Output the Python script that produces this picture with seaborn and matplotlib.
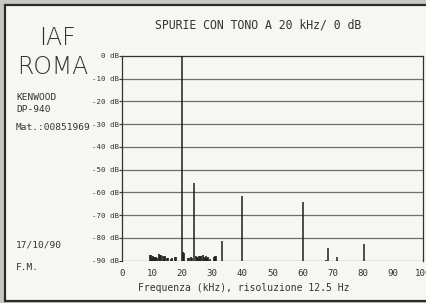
import matplotlib
matplotlib.use('Agg')
import matplotlib.pyplot as plt
import seaborn as sns
from matplotlib.patches import Rectangle

# Righe spettrali principali (kHz, dB)
toni_khz = [20, 24, 31, 33.2, 40, 60, 67.7, 68.3, 71.4, 80.4]
toni_db = [0, -56, -88, -81.5, -61.5, -64.2, -89.5, -84.6, -88.2, -82.7]

# Rumore di fondo tra 10 e 32 kHz
rumore_khz = [9.4, 9.7, 10.0, 10.3, 10.6, 11.1, 11.4, 11.7, 12.4, 12.7, 13.0, 13.7,
              14.0, 14.3, 14.9, 15.2, 16.3, 16.6, 17.7, 18.0, 20.4, 20.7,
              22.0, 22.4, 22.9, 23.4, 24.6, 25.0, 25.3, 25.5, 26.0, 26.4, 26.9,
              27.3, 27.6, 27.8, 28.3, 28.7, 29.2, 30.5, 30.8, 31.3]
rumore_db = [-87.3, -87.6, -88.6, -88.0, -88.4, -88.6, -88.4, -88.8, -87.1, -87.3, -87.6, -87.8,
             -88.2, -88.0, -89.0, -88.8, -89.2, -89.0, -88.2, -88.4, -86.0, -86.4,
             -89.0, -88.8, -88.4, -88.6, -88.0, -88.3, -88.9, -87.9, -88.1, -87.8, -87.7,
             -88.5, -88.9, -88.0, -88.8, -88.3, -89.3, -88.2, -88.6, -88.0]

y_ticks = [0, -10, -20, -30, -40, -50, -60, -70, -80, -90]
x_ticks = [0, 10, 20, 30, 40, 50, 60, 70, 80, 90, 100]

sns.set_style('white')
mono = 'DejaVu Sans Mono'
plt.rcParams['font.family'] = [mono, 'DejaVu Sans']

fig = plt.figure(figsize=(4.26, 3.03), dpi=100, facecolor='#c6c6c4')
fig.patches.append(Rectangle((5 / 426, 2 / 303), 1.0, 296 / 303, transform=fig.transFigure,
                             facecolor='#f6f6f3', edgecolor='#2a2a2a', lw=1.6, zorder=-5))

ax = fig.add_axes([122 / 426, 42.3 / 303, 301 / 426, 204.7 / 303])
ax.set_facecolor('none')
ax.set_zorder(2)
ax.set_xlim(0, 100)
ax.set_ylim(-90, 0)

for v in y_ticks[1:]:
    ax.axhline(v, color='#6e6e6e', lw=0.9, zorder=1)

ax.vlines(rumore_khz, -90, rumore_db, color='#1e1e1e', lw=1.2, zorder=2)
ax.vlines(toni_khz, -90, toni_db, color='#1e1e1e', lw=1.1, zorder=3)

ax.set_yticks(y_ticks)
ax.set_yticklabels([f'{v} dB' for v in y_ticks], fontsize=5.3, color='#333333')
ax.set_xticks(x_ticks)
ax.set_xticklabels([str(v) for v in x_ticks], fontsize=6.6, color='#333333')
ax.tick_params(axis='y', length=2, width=0.8, pad=0.5, color='#333333', left=True)
ax.tick_params(axis='x', length=0, pad=6)
for s in ax.spines.values():
    s.set_color('#333333')
    s.set_linewidth(0.9)
ax.spines['bottom'].set_visible(False)

fig.text(258 / 426, 1 - 25 / 303, 'SPURIE CON TONO A 20 kHz/ 0 dB', fontsize=8.3,
         ha='center', va='center', color='#333333')
fig.text(244 / 426, 1 - 288 / 303, 'Frequenza (kHz), risoluzione 12.5 Hz', fontsize=7,
         ha='center', va='center', color='#333333')

fig.text(57 / 426, 1 - 38 / 303, 'IAF', fontsize=17, family='DejaVu Sans', weight='light',
         ha='center', va='center', color='#333333')
fig.text(53 / 426, 1 - 67 / 303, 'ROMA', fontsize=17, family='DejaVu Sans', weight='light',
         ha='center', va='center', color='#333333')

for testo, yy in [('KENWOOD', 98), ('DP-940', 110), ('Mat.:00851969', 127),
                  ('17/10/90', 245), ('F.M.', 267)]:
    fig.text(16 / 426, 1 - yy / 303, testo, fontsize=6.8, ha='left', va='center',
             color='#333333')

plt.savefig('out.png', dpi=100, facecolor=fig.get_facecolor())
